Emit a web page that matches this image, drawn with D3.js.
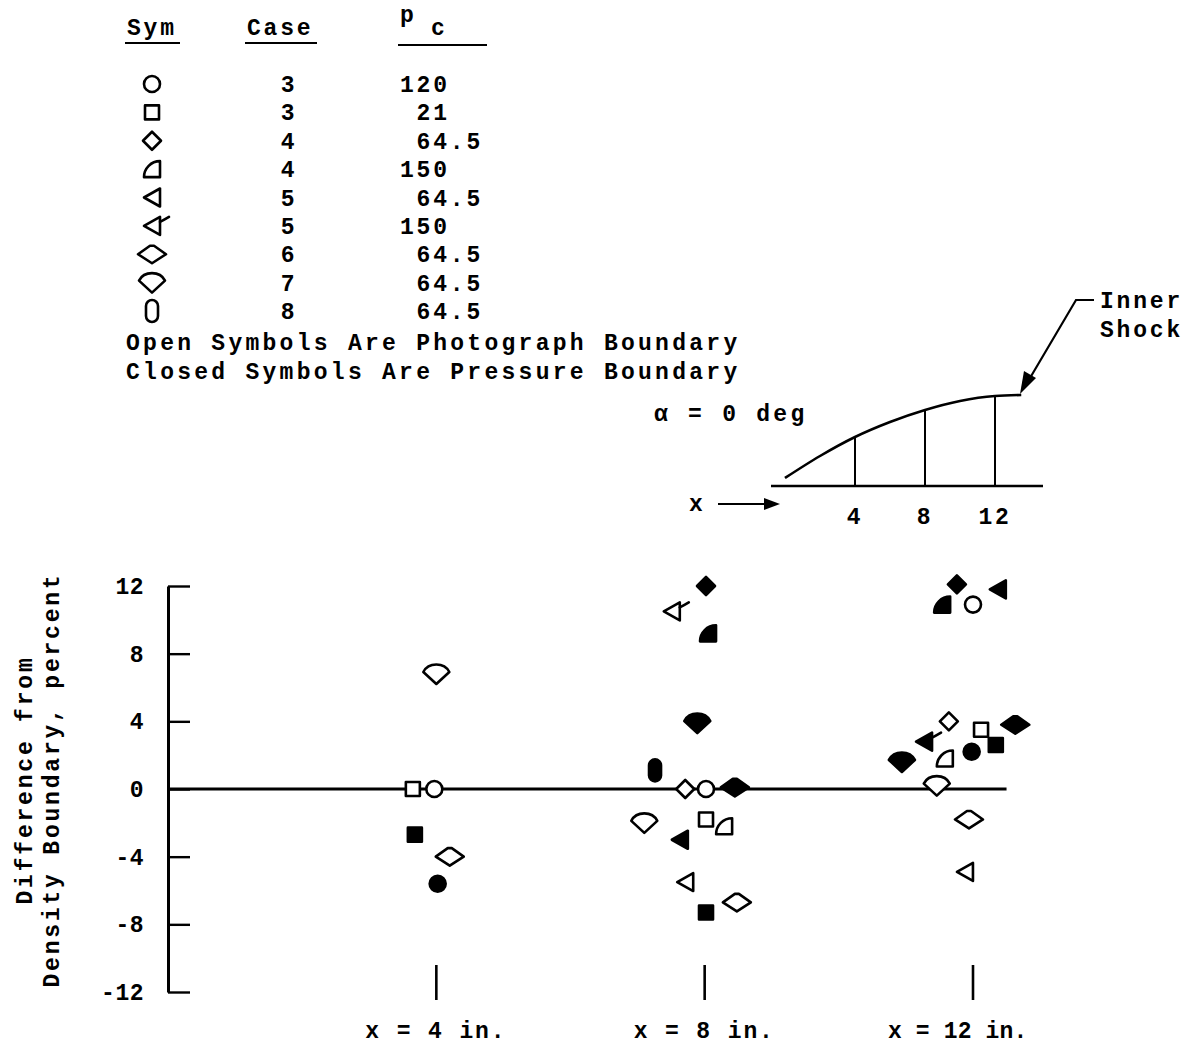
<!DOCTYPE html>
<html>
<head>
<meta charset="utf-8">
<script src="https://cdn.jsdelivr.net/npm/d3@7"></script>
<style>
  html, body { margin: 0; padding: 0; background: #fff; }
  svg text { font-family: "Liberation Mono", "DejaVu Sans Mono", monospace; font-weight: bold; font-size: 23px; letter-spacing: 2.8px; fill: #000; white-space: pre; }
  svg .tick text { letter-spacing: 0.5px; }
</style>
</head>
<body>
<svg id="chart" width="1203" height="1046"></svg>
<script>
// ---------------- data ----------------
// legend
const legendSym = ["circle", "square", "diamond", "quarter", "triangle", "flag", "lens", "kite", "stadium"];
const legendCase = ["3", "3", "4", "4", "5", "5", "6", "7", "8"];
const legendPc = ["120", " 21", " 64.5", "150", " 64.5", "150", " 64.5", " 64.5", " 64.5"];
const noteLines = ["Open Symbols Are Photograph Boundary", "Closed Symbols Are Pressure Boundary"];

// data points: x position (in.), difference (percent), symbol, filled
const pointX = [
  4.0, 3.65, 3.97, 3.68, 4.2, 4.02,
  8.02, 7.51, 8.05, 7.89, 7.26, 7.71, 8.02, 8.45, 7.1, 8.02, 8.29, 7.63, 7.71, 8.48, 8.02,
  11.76, 11.54, 12.0, 12.37, 11.64, 12.12, 12.63, 11.27, 11.58, 11.98, 12.34, 10.94, 11.46, 11.94, 11.88
];
const pointY = [
  6.8, 0, 0, -2.7, -4.0, -5.6,
  12.0, 10.5, 9.2, 3.9, 1.1, 0, 0, 0.1, -2.0, -1.8, -2.2, -3.0, -5.5, -6.7, -7.3,
  12.1, 10.9, 10.9, 11.8, 4.0, 3.5, 3.8, 2.8, 1.8, 2.2, 2.6, 1.6, 0.2, -1.8, -4.9
];
const pointSym = [
  "kite", "square", "circle", "square", "lens", "circle",
  "diamond", "flag", "quarter", "kite", "stadium", "diamond", "circle", "lens", "kite", "square", "quarter", "triangle", "triangle", "lens", "square",
  "diamond", "quarter", "circle", "triangle", "diamond", "square", "lens", "flag", "quarter", "circle", "square", "kite", "kite", "lens", "triangle"
];
const pointFilled = [
  false, false, false, true, false, true,
  true, false, true, true, true, false, false, true, false, false, false, true, false, false, true,
  true, true, false, true, false, false, true, true, false, true, true, true, false, false, false
];

// axes
const yTicks = [-12, -8, -4, 0, 4, 8, 12];
const stations = [4, 8, 12];
const stationLabels = ["x = 4 in.", "x = 8 in.", "x = 12 in."];
const yLabelLines = ["Difference from", "Density Boundary, percent"];

// inset schematic (shock shape, station positions)
const insetShockX = [0, 2, 4, 6, 8, 10, 12, 13.5];
const insetShockH = [8, 30, 49, 64, 76, 85, 90, 91];
const insetTicks = [4, 8, 12];

// ---------------- drawing ----------------
const svg = d3.select("#chart");

const xScale = d3.scaleLinear().domain([0, 12]).range([168, 973]);
const yScale = d3.scaleLinear().domain([-12, 12]).range([992, 586]);

const SYM = {
  circle: "M-8,0A8,8 0 1,0 8,0A8,8 0 1,0 -8,0Z",
  square: "M-7,-7H7V7H-7Z",
  diamond: "M0,-9L9,0L0,9L-9,0Z",
  quarter: "M8,8L-8,8A16,16 0 0 1 8,-8Z",
  triangle: "M-8,0L8,-9L8,9Z",
  flag: "M-8,0L8,-9L8,9Z",
  lens: "M-14,0L-2,-8.5L2,-8.5L14,0L0,9Z",
  kite: "M-13,-2C-8,-12 8,-12 13,-2L0,10Z",
  stadium: "M-6,-5A6,6 0 0 1 6,-5V5A6,6 0 0 1 -6,5Z"
};

function drawSymbol(g, type, filled) {
  g.append("path")
    .attr("d", SYM[type])
    .attr("fill", filled ? "#000" : "#fff")
    .attr("stroke", "#000")
    .attr("stroke-width", 2.6)
    .attr("stroke-linejoin", "round");
  if (type === "flag") {
    g.append("path")
      .attr("d", "M8,-4Q12,-6 17,-9")
      .attr("fill", "none")
      .attr("stroke", "#000")
      .attr("stroke-width", 2.6)
      .attr("stroke-linecap", "round");
  }
}

// ---- legend ----
const leg = svg.append("g");
leg.append("text").attr("x", 127).attr("y", 35).text("Sym");
leg.append("text").attr("x", 247).attr("y", 35).text("Case");
leg.append("text").attr("x", 400).attr("y", 22).attr("font-size", 25).text("p");
leg.append("text").attr("x", 431).attr("y", 35).text("c");
[[125, 180, 43], [245, 317, 43], [398, 487, 45]].forEach(u => {
  leg.append("line").attr("x1", u[0]).attr("x2", u[1]).attr("y1", u[2]).attr("y2", u[2])
    .attr("stroke", "#000").attr("stroke-width", 2.2);
});
const rowY = d3.scaleLinear().domain([0, legendSym.length - 1]).range([84, 311]);
legendSym.forEach((s, i) => {
  const g = leg.append("g").attr("transform", `translate(152,${rowY(i)})`);
  drawSymbol(g, s, false);
  leg.append("text").attr("x", 289).attr("y", rowY(i)).attr("dy", "0.35em")
    .attr("text-anchor", "middle").text(legendCase[i]);
  leg.append("text").attr("x", 400).attr("y", rowY(i)).attr("dy", "0.35em")
    .attr("xml:space", "preserve").text(legendPc[i]);
});
noteLines.forEach((t, i) => {
  leg.append("text").attr("x", 126).attr("y", 350 + i * 29)
    .attr("textLength", 614).attr("lengthAdjust", "spacing").text(t);
});

// ---- inset schematic ----
const ix = d3.scaleLinear().domain([0, 12]).range([785, 995]);
const iy = d3.scaleLinear().domain([0, 100]).range([486, 386]);
const inset = svg.append("g");
inset.append("line").attr("x1", 771).attr("x2", 1043).attr("y1", iy(0)).attr("y2", iy(0))
  .attr("stroke", "#000").attr("stroke-width", 2.6);
const shockLine = d3.line().x((d, i) => ix(insetShockX[i])).y(d => iy(d)).curve(d3.curveMonotoneX);
inset.append("path").attr("d", shockLine(insetShockH)).attr("fill", "none")
  .attr("stroke", "#000").attr("stroke-width", 2.6);
const shockAt = (v) => d3.scaleLinear().domain(insetShockX).range(insetShockH)(v);
insetTicks.forEach(t => {
  inset.append("line").attr("x1", ix(t)).attr("x2", ix(t)).attr("y1", iy(0)).attr("y2", iy(shockAt(t)))
    .attr("stroke", "#000").attr("stroke-width", 2);
  inset.append("text").attr("x", ix(t)).attr("y", 524).attr("text-anchor", "middle").text(String(t));
});
inset.append("text").attr("x", 654).attr("y", 421).attr("textLength", 153).attr("lengthAdjust", "spacing").text("α = 0 deg");
inset.append("text").attr("x", 689).attr("y", 511).text("x");
inset.append("line").attr("x1", 718).attr("x2", 766).attr("y1", 504).attr("y2", 504)
  .attr("stroke", "#000").attr("stroke-width", 2);
inset.append("path").attr("d", "M780,504L764,498L764,510Z").attr("fill", "#000");
// Inner Shock label + leader
inset.append("text").attr("x", 1100).attr("y", 308).text("Inner");
inset.append("text").attr("x", 1100).attr("y", 337).text("Shock");
inset.append("path").attr("d", "M1094,300L1076,300L1030,378").attr("fill", "none")
  .attr("stroke", "#000").attr("stroke-width", 2.2);
inset.append("path").attr("d", "M1020,394L1024,371L1036,378Z").attr("fill", "#000");

// ---- main chart ----
const yAxis = d3.axisLeft(yScale).tickValues(yTicks).tickSizeInner(-22).tickSizeOuter(0)
  .tickPadding(24).tickFormat(d => String(d));
const ya = svg.append("g").attr("transform", `translate(${xScale(0)},0)`).call(yAxis);
ya.select(".domain").attr("stroke", "#000").attr("stroke-width", 3);
ya.selectAll(".tick line").attr("stroke", "#000").attr("stroke-width", 2.4);
ya.selectAll(".tick text").attr("fill", "#000");
ya.attr("font-size", null).attr("font-family", null);

yLabelLines.forEach((t, i) => {
  svg.append("text")
    .attr("transform", `translate(${24 + i * 27},${780}) rotate(-90)`)
    .attr("text-anchor", "middle").attr("dy", "0.35em").text(t);
});

// zero reference line
svg.append("line").attr("x1", xScale(0)).attr("x2", xScale(12.5))
  .attr("y1", yScale(0)).attr("y2", yScale(0))
  .attr("stroke", "#000").attr("stroke-width", 3);

// station marks
const labelShift = [0, 0, -14];
stations.forEach((s, i) => {
  svg.append("line").attr("x1", xScale(s)).attr("x2", xScale(s)).attr("y1", 965).attr("y2", 1000)
    .attr("stroke", "#000").attr("stroke-width", 2.6);
  svg.append("text").attr("x", xScale(s) + labelShift[i]).attr("y", 1038).attr("text-anchor", "middle")
    .attr("textLength", 142).attr("lengthAdjust", "spacing").text(stationLabels[i]);
});

// points
const pts = svg.append("g");
pointX.forEach((x, i) => {
  const g = pts.append("g").attr("transform", `translate(${xScale(x)},${yScale(pointY[i])})`);
  drawSymbol(g, pointSym[i], pointFilled[i]);
});
</script>
</body>
</html>
